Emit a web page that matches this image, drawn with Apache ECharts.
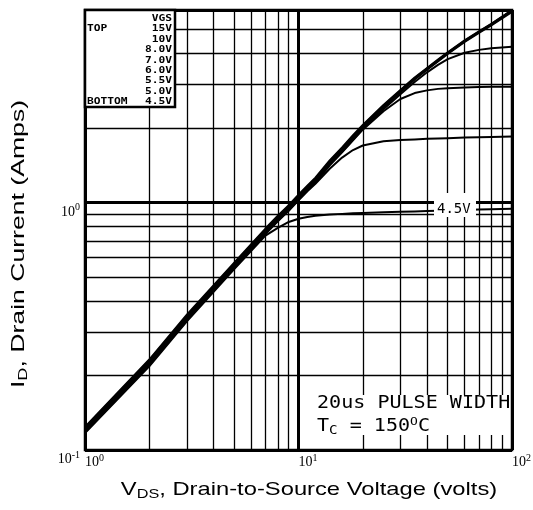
<!DOCTYPE html>
<html>
<head>
<meta charset="utf-8">
<script src="https://cdn.jsdelivr.net/npm/echarts@6/dist/echarts.min.js"></script>
<style>
  html, body { margin: 0; padding: 0; background: #fff; }
  #chart { width: 533px; height: 510px; }
</style>
</head>
<body>
<div id="chart"></div>
<script>
// VDS sample points (volts) shared by all curves
const vds = [1, 2, 3, 5, 7, 8, 9, 10, 11, 12, 14, 16, 18, 20, 25, 30, 35, 40, 45, 50, 60, 70, 80, 100];

// ID (amps), one array per VGS curve
const id15 = [0.124, 0.232, 0.352, 0.572, 0.785, 0.885, 0.975, 1.075, 1.17, 1.26, 1.48, 1.67, 1.87, 2.06, 2.48, 2.85, 3.2, 3.5, 3.78, 4.05, 4.52, 4.92, 5.28, 6.0];
const id10 = [0.123, 0.23, 0.348, 0.566, 0.777, 0.876, 0.965, 1.064, 1.158, 1.247, 1.465, 1.653, 1.851, 2.04, 2.46, 2.83, 3.18, 3.48, 3.76, 4.03, 4.5, 4.9, 5.26, 5.98];
const id8 = [0.1215, 0.227, 0.345, 0.561, 0.769, 0.867, 0.956, 1.054, 1.147, 1.235, 1.45, 1.637, 1.833, 2.02, 2.44, 2.81, 3.16, 3.46, 3.74, 4.01, 4.48, 4.88, 5.23, 5.95];
const id7 = [0.1203, 0.225, 0.341, 0.555, 0.761, 0.858, 0.946, 1.043, 1.135, 1.222, 1.436, 1.62, 1.814, 2.0, 2.42, 2.79, 3.14, 3.44, 3.72, 3.99, 4.46, 4.85, 5.2, 5.9];
const id6 = [0.119, 0.223, 0.338, 0.549, 0.754, 0.85, 0.936, 1.032, 1.123, 1.21, 1.42, 1.603, 1.795, 1.98, 2.38, 2.74, 3.07, 3.36, 3.6, 3.8, 4.03, 4.14, 4.2, 4.26];
const id55 = [0.1185, 0.222, 0.336, 0.546, 0.75, 0.845, 0.931, 1.027, 1.117, 1.203, 1.413, 1.595, 1.786, 1.97, 2.34, 2.62, 2.77, 2.84, 2.88, 2.9, 2.92, 2.93, 2.935, 2.94];
const id5 = [0.118, 0.22, 0.334, 0.543, 0.746, 0.84, 0.926, 1.02, 1.11, 1.19, 1.37, 1.52, 1.63, 1.7, 1.77, 1.79, 1.8, 1.81, 1.815, 1.82, 1.83, 1.835, 1.84, 1.85];
const id45 = [0.117, 0.218, 0.331, 0.538, 0.735, 0.79, 0.835, 0.86, 0.875, 0.885, 0.895, 0.9, 0.905, 0.908, 0.913, 0.918, 0.921, 0.924, 0.927, 0.93, 0.934, 0.937, 0.94, 0.945];

const vgsLabels = ['15V', '10V', '8.0V', '7.0V', '6.0V', '5.5V', '5.0V', '4.5V'];
const curves = [id15, id10, id8, id7, id6, id55, id5, id45];

// minor grid positions
const xMinor = [2, 3, 4, 5, 6, 7, 8, 9, 20, 30, 40, 50, 60, 70, 80, 90];
const yMinor = [0.2, 0.3, 0.4, 0.5, 0.6, 0.7, 0.8, 0.9, 2, 3, 4, 5];

const chart = echarts.init(document.getElementById('chart'), null, { renderer: 'canvas' });

const monoFont = '"DejaVu Sans Mono", monospace';
const sansFont = '"Liberation Sans", Arial, sans-serif';
const serifFont = '"Liberation Serif", serif';

function powLabel(v) {
  const l = Math.log10(v);
  const e = Math.round(l);
  if (Math.abs(l - e) > 1e-6) return '';
  return '{b|10}{s|' + e + '}';
}
const powRich = {
  b: { fontSize: 14, fontFamily: serifFont, color: '#000', lineHeight: 19 },
  s: { fontSize: 10, fontFamily: serifFont, color: '#000', verticalAlign: 'top' }
};

const curveSeries = curves.map((arr, i) => ({
  type: 'line',
  name: vgsLabels[i],
  data: vds.map((v, k) => [v, arr[k]]),
  showSymbol: false,
  smooth: false,
  z: 3,
  lineStyle: { color: '#000', width: 2, join: 'round' },
  silent: true
}));

const legendGraphics = [
  {
    type: 'rect', z: 10,
    shape: { x: 85, y: 10, width: 90, height: 97 },
    style: { fill: '#fff', stroke: '#000', lineWidth: 2.5 }
  },
  {
    type: 'text', z: 11, x: 172, y: 19, scaleX: 1.25,
    style: { text: 'VGS', font: 'bold 9px ' + monoFont, fill: '#000', align: 'right', verticalAlign: 'middle' }
  },
  {
    type: 'text', z: 11, x: 87, y: 29, scaleX: 1.25,
    style: { text: 'TOP', font: 'bold 9px ' + monoFont, fill: '#000', align: 'left', verticalAlign: 'middle' }
  },
  {
    type: 'text', z: 11, x: 87, y: 101.5, scaleX: 1.25,
    style: { text: 'BOTTOM', font: 'bold 9px ' + monoFont, fill: '#000', align: 'left', verticalAlign: 'middle' }
  }
].concat(vgsLabels.map((t, i) => ({
  type: 'text', z: 11, x: 172, y: 29 + i * 10.4, scaleX: 1.25,
  style: { text: t, font: 'bold 9px ' + monoFont, fill: '#000', align: 'right', verticalAlign: 'middle' }
})));

const noteGraphics = [
  {
    type: 'rect', z: 10,
    shape: { x: 313, y: 395, width: 196, height: 40 },
    style: { fill: '#fff' }
  },
  {
    type: 'text', z: 11, x: 317, y: 404, scaleX: 1.18,
    style: { text: '20us PULSE WIDTH', font: '17px ' + monoFont, fill: '#000', align: 'left', verticalAlign: 'middle' }
  },
  {
    type: 'text', z: 11, x: 317, y: 427, scaleX: 1.18,
    style: {
      text: '{n|T}{sub|C}{n| = 150}{sup|O}{n|C}',
      align: 'left', verticalAlign: 'middle',
      rich: {
        n: { fontSize: 17, fontFamily: monoFont, color: '#000', lineHeight: 20 },
        sub: { fontSize: 12, fontFamily: monoFont, color: '#000', verticalAlign: 'bottom' },
        sup: { fontSize: 11, fontFamily: monoFont, color: '#000', verticalAlign: 'top' }
      }
    }
  },
  {
    type: 'rect', z: 10,
    shape: { x: 434, y: 193, width: 42, height: 24 },
    style: { fill: '#fff' }
  },
  {
    type: 'text', z: 11, x: 437, y: 209,
    style: { text: '4.5V', font: '14px ' + monoFont, fill: '#000', align: 'left', verticalAlign: 'middle' }
  },
  {
    type: 'text', z: 11, x: 309, y: 490, scaleX: 1.25,
    style: {
      text: '{n|V}{sub|DS}{n|, Drain-to-Source Voltage (volts)}',
      align: 'center', verticalAlign: 'middle',
      rich: {
        n: { fontSize: 19, fontFamily: sansFont, color: '#000', lineHeight: 22 },
        sub: { fontSize: 13, fontFamily: sansFont, color: '#000', verticalAlign: 'bottom' }
      }
    }
  },
  {
    type: 'text', z: 11, x: 19, y: 244, rotation: Math.PI / 2, scaleX: 1.4,
    style: {
      text: '{n|I}{sub|D}{n|, Drain Current (Amps)}',
      align: 'center', verticalAlign: 'middle',
      rich: {
        n: { fontSize: 19, fontFamily: sansFont, color: '#000', lineHeight: 22 },
        sub: { fontSize: 13, fontFamily: sansFont, color: '#000', verticalAlign: 'bottom' }
      }
    }
  }
];

const option = {
  backgroundColor: '#fff',
  animation: false,
  grid: {
    left: 85, right: 21, top: 10, bottom: 60,
    show: true, borderColor: '#000', borderWidth: 2.5,
    backgroundColor: 'transparent',
    containLabel: false,
    outerBoundsMode: 'none'
  },
  xAxis: {
    type: 'log', logBase: 10, min: 1, max: 100,
    axisLine: { show: false },
    axisTick: { show: false },
    splitLine: { show: true, lineStyle: { color: '#000', width: 3 } },
    axisLabel: {
      formatter: powLabel, rich: powRich, align: 'left', margin: 3,
      showMinLabel: true, showMaxLabel: true
    }
  },
  yAxis: {
    type: 'log', logBase: 10, min: 0.1, max: 6,
    axisLine: { show: false },
    axisTick: { show: false },
    splitLine: { show: true, lineStyle: { color: '#000', width: 3 } },
    axisLabel: {
      formatter: powLabel, rich: powRich, margin: 5, verticalAlign: 'top',
      showMaxLabel: false
    }
  },
  graphic: legendGraphics.concat(noteGraphics),
  series: [
    {
      type: 'line',
      name: 'grid',
      data: [[1, 0.1]],
      showSymbol: false,
      silent: true,
      z: 1,
      lineStyle: { width: 0 },
      markLine: {
        silent: true,
        symbol: ['none', 'none'],
        label: { show: false },
        animation: false,
        lineStyle: { color: '#000', width: 1.3, type: 'solid' },
        data: xMinor.map(v => ({ xAxis: v })).concat(yMinor.map(v => ({ yAxis: v })))
      }
    }
  ].concat(curveSeries)
};

chart.setOption(option);
</script>
</body>
</html>
